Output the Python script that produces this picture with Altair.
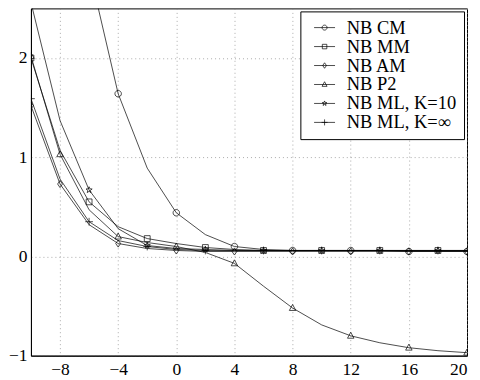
import math
import altair as alt
import pandas as pd

x_vals = [-10, -8, -6, -4, -2, 0, 2, 4, 6, 8, 10, 12, 14, 16, 18, 20]
series_names = ["NB CM", "NB MM", "NB AM", "NB P2", "NB ML, K=10", "NB ML, K=∞"]

nb_cm = [5.4, 4.1, 2.9, 1.64, 0.89, 0.44, 0.22, 0.10, 0.07, 0.06, 0.06, 0.06, 0.06, 0.05, 0.05, 0.05]
nb_mm = [2.00, 1.07, 0.55, 0.30, 0.18, 0.13, 0.09, 0.07, 0.06, 0.06, 0.06, 0.06, 0.06, 0.06, 0.06, 0.06]
nb_am = [1.52, 0.73, 0.32, 0.13, 0.08, 0.06, 0.05, 0.05, 0.05, 0.05, 0.05, 0.05, 0.05, 0.05, 0.05, 0.05]
nb_p2 = [2.02, 1.03, 0.47, 0.20, 0.14, 0.10, 0.04, -0.07, -0.30, -0.52, -0.69, -0.80, -0.87, -0.92, -0.95, -0.97]
nb_k10 = [2.56, 1.37, 0.67, 0.28, 0.11, 0.08, 0.07, 0.06, 0.06, 0.06, 0.06, 0.06, 0.06, 0.06, 0.06, 0.06]
nb_kinf = [1.59, 0.78, 0.35, 0.16, 0.10, 0.07, 0.06, 0.06, 0.06, 0.06, 0.06, 0.06, 0.06, 0.06, 0.06, 0.06]

marks_a = [-10, -8, -4, 0, 4, 8, 12, 16, 20]
marks_b = [-10, -6, -2, 2, 6, 10, 14, 18]
marker_x = [marks_a, marks_b, marks_a, marks_a, marks_b[1:], marks_b]

all_series = [nb_cm, nb_mm, nb_am, nb_p2, nb_k10, nb_kinf]

rows = []
for name, ys, mx in zip(series_names, all_series, marker_x):
    for xv, yv in zip(x_vals, ys):
        rows.append({"x": xv, "y": yv, "series": name, "marker": xv in mx})
df = pd.DataFrame(rows)

# marker shapes (unit box -1..1)
star_pts = []
for i in range(10):
    r = 1.0 if i % 2 == 0 else 0.42
    a = -math.pi / 2 + i * math.pi / 5
    star_pts.append(f"{r*math.cos(a):.3f},{r*math.sin(a):.3f}")
star_path = "M" + "L".join(star_pts) + "Z"
circle_path = "M-1,0A1,1,0,1,1,1,0A1,1,0,1,1,-1,0Z"
square_path = "M-0.9,-0.9L0.9,-0.9L0.9,0.9L-0.9,0.9Z"
diamond_path = "M0,-1.1L0.75,0L0,1.1L-0.75,0Z"
tri_path = "M0,-1.1L1,0.75L-1,0.75Z"
plus_path = "M-1.2,0L1.2,0M0,-1.2L0,1.2"
marker_paths = [circle_path, square_path, diamond_path, tri_path, star_path, plus_path]
stub = "M-4.2,0L4.2,0"
legend_paths = [stub + p for p in marker_paths]

FONT = "Liberation Serif"
FS = 17.5

base = alt.Chart(df)
xs = alt.Scale(domain=[-10, 20], nice=False, zero=False)
ys = alt.Scale(domain=[-1, 2.5], nice=False, zero=False)

x_enc = alt.X("x:Q", scale=xs, axis=alt.Axis(values=[-8, -4, 0, 4, 8, 12, 16, 20], title=None))
y_enc = alt.Y("y:Q", scale=ys, axis=alt.Axis(values=[-1, 0, 1, 2], title=None))

lines = base.mark_line(color="black", strokeWidth=0.7, clip=True).encode(
    x=x_enc, y=y_enc, detail="series:N"
)

points = base.transform_filter("datum.marker").mark_point(
    filled=False, color="black", strokeWidth=0.7, size=42, clip=True, opacity=1
).encode(
    x=x_enc, y=y_enc,
    shape=alt.Shape("series:N", scale=alt.Scale(domain=series_names, range=marker_paths), legend=None),
)

legend_layer = base.transform_filter("datum.marker").mark_point(
    filled=False, color="black", strokeWidth=0.7, size=42, opacity=0, clip=True
).encode(
    x=x_enc, y=y_enc,
    shape=alt.Shape(
        "series:N",
        scale=alt.Scale(domain=series_names, range=legend_paths),
        legend=alt.Legend(
            title=None, orient="top-right", offset=3,
            symbolOpacity=1, symbolStrokeColor="black", symbolFillColor="transparent",
            symbolStrokeWidth=0.7, symbolSize=25, symbolOffset=8,
            labelOffset=13, labelFont=FONT, labelFontSize=18.5, labelColor="black",
            labelExpr="datum.label + '\u00a0\u00a0\u00a0'",
            rowPadding=0, padding=7,
            fillColor="white", strokeColor="black",
        ),
    ),
)

chart = alt.layer(lines, points, legend_layer).resolve_scale(shape="independent").properties(
    width=437, height=348,
    autosize=alt.AutoSizeParams(type="none"),
    padding={"left": 23, "top": 0, "right": 5, "bottom": 24},
).configure_view(stroke="black", strokeWidth=1).configure_axis(
    labelFont=FONT, labelFontSize=FS, labelColor="black",
    domainColor="black", domainWidth=1,
    tickSize=0, labelPadding=4,
    gridColor="#888", gridDash=[1, 3], gridWidth=0.7, gridOpacity=1,
).configure_axisX(labelPadding=5)

chart.save("out.html", embed_options={"renderer": "svg", "actions": False})
